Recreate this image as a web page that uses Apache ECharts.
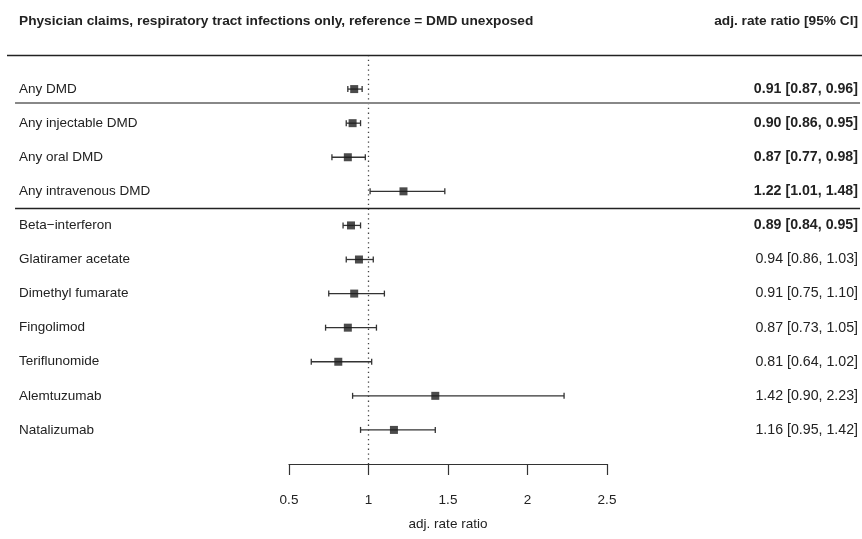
<!DOCTYPE html>
<html>
<head>
<meta charset="utf-8">
<script src="https://cdn.jsdelivr.net/npm/echarts@6/dist/echarts.min.js"></script>
<style>
html, body { margin: 0; padding: 0; background: #fff; }
#chart { width: 862px; height: 539px; }
</style>
</head>
<body>
<div id="chart"></div>
<script>
// rows, top to bottom
var labels = ['Any DMD', 'Any injectable DMD', 'Any oral DMD', 'Any intravenous DMD',
  'Beta\u2212interferon', 'Glatiramer acetate', 'Dimethyl fumarate', 'Fingolimod',
  'Teriflunomide', 'Alemtuzumab', 'Natalizumab'];
var est  = [0.91, 0.90, 0.87, 1.22, 0.89, 0.94, 0.91, 0.87, 0.81, 1.42, 1.16];
var low  = [0.87, 0.86, 0.77, 1.01, 0.84, 0.86, 0.75, 0.73, 0.64, 0.90, 0.95];
var high = [0.96, 0.95, 0.98, 1.48, 0.95, 1.03, 1.10, 1.05, 1.02, 2.23, 1.42];
var bold = [true, true, true, true, true, false, false, false, false, false, false];
var xTicks = [0.5, 1, 1.5, 2, 2.5];

var FONT = '"Liberation Sans", Arial, sans-serif';
var rows = labels.map(function (l, i) { return i; });
var ciText = rows.map(function (i) {
  return est[i].toFixed(2) + ' [' + low[i].toFixed(2) + ', ' + high[i].toFixed(2) + ']';
});

var chart = echarts.init(document.getElementById('chart'));

var option = {
  animation: false,
  title: [{
    text: 'Physician claims, respiratory tract infections only, reference = DMD unexposed',
    left: 19, top: 14, padding: 0,
    textStyle: { fontFamily: FONT, fontSize: 13.7, fontWeight: 'bold', color: '#222' }
  }, {
    text: 'adj. rate ratio [95% CI]',
    right: 4, top: 14, padding: 0,
    textStyle: { fontFamily: FONT, fontSize: 13.7, fontWeight: 'bold', color: '#222' }
  }],
  grid: [
    { left: 289, width: 318, top: 55, height: 409 },
    { left: 7, right: 0, top: 55, height: 409 }
  ],
  xAxis: [{
    gridIndex: 0, type: 'value',
    min: xTicks[0], max: xTicks[xTicks.length - 1], interval: 0.5,
    axisLine: { show: true, onZero: false, lineStyle: { color: '#333', width: 1.2 } },
    axisTick: { show: true, length: 11, lineStyle: { color: '#333', width: 1.2 } },
    axisLabel: { margin: 29, fontSize: 13.5, color: '#222', fontFamily: FONT },
    splitLine: { show: false },
    name: 'adj. rate ratio', nameLocation: 'middle', nameGap: 53,
    nameTextStyle: { fontSize: 13.5, color: '#222', fontFamily: FONT }
  }, {
    gridIndex: 1, type: 'value', min: 0, max: 1, show: false
  }],
  yAxis: [
    { gridIndex: 0, type: 'value', min: -1, max: 11, inverse: true, show: false },
    { gridIndex: 1, type: 'value', min: -1, max: 11, inverse: true, show: false }
  ],
  series: [{
    // whiskers
    type: 'custom', xAxisIndex: 0, yAxisIndex: 0,
    data: rows.map(function (i) { return [low[i], high[i], i]; }),
    encode: { x: [0, 1], y: 2 },
    renderItem: function (params, api) {
      var a = api.coord([api.value(0), api.value(2)]);
      var b = api.coord([api.value(1), api.value(2)]);
      var st = { stroke: '#333', lineWidth: 1.3 };
      return {
        type: 'group',
        children: [
          { type: 'line', shape: { x1: a[0], y1: a[1], x2: b[0], y2: b[1] }, style: st },
          { type: 'line', shape: { x1: a[0], y1: a[1] - 3, x2: a[0], y2: a[1] + 3 }, style: st },
          { type: 'line', shape: { x1: b[0], y1: b[1] - 3, x2: b[0], y2: b[1] + 3 }, style: st }
        ]
      };
    },
    markLine: {
      silent: true, symbol: 'none', label: { show: false },
      lineStyle: { type: [1.3, 3.5], color: '#444', width: 1.3 },
      data: [{ xAxis: 1 }]
    }
  }, {
    type: 'scatter', xAxisIndex: 0, yAxisIndex: 0,
    data: rows.map(function (i) { return [est[i], i]; }),
    symbol: 'rect', symbolSize: 8,
    itemStyle: { color: '#1e1e1e' }, z: 5
  }, {
    // table text
    type: 'custom', xAxisIndex: 1, yAxisIndex: 1,
    data: rows.map(function (i) { return [0, i]; }),
    renderItem: function (params, api) {
      var i = params.dataIndex;
      var l = api.coord([0.014, api.value(1)]);
      var r = api.coord([0.9953, api.value(1)]);
      return {
        type: 'group',
        children: [{
          type: 'text', x: l[0], y: l[1],
          style: { text: labels[i], fill: '#222', font: '13.5px ' + FONT, align: 'left', verticalAlign: 'middle' }
        }, {
          type: 'text', x: r[0], y: r[1],
          style: { text: ciText[i], fill: '#222', font: (bold[i] ? 'bold ' : '') + '14.2px ' + FONT, align: 'right', verticalAlign: 'middle' }
        }]
      };
    },
    markLine: {
      silent: true, symbol: 'none', label: { show: false },
      data: [
        [{ coord: [0, -1], lineStyle: { color: '#222', width: 1.3, type: 'solid' } }, { coord: [1, -1] }],
        [{ coord: [0.0094, 0.41], lineStyle: { color: '#888', width: 2, type: 'solid' } }, { coord: [0.9977, 0.41] }],
        [{ coord: [0.0094, 3.5], lineStyle: { color: '#222', width: 1.3, type: 'solid' } }, { coord: [0.9977, 3.5] }]
      ]
    }
  }]
};

chart.setOption(option);
</script>
</body>
</html>
